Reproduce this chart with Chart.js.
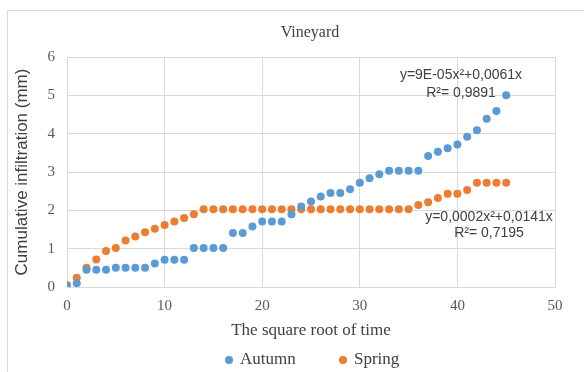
<!DOCTYPE html>
<html>
<head>
<meta charset="utf-8">
<script src="https://cdn.jsdelivr.net/npm/chart.js@4/dist/chart.umd.min.js"></script>
<style>
  html, body { margin: 0; padding: 0; background: #fff; }
  canvas { display: block; }
</style>
</head>
<body>
<canvas id="chart" width="584" height="372"></canvas>
<script>
// data
const rootTime = [0, 1, 2, 3, 4, 5, 6, 7, 8, 9, 10, 11, 12, 13, 14, 15, 16, 17, 18, 19, 20, 21, 22,
  23, 24, 25, 26, 27, 28, 29, 30, 31, 32, 33, 34, 35, 36, 37, 38, 39, 40, 41, 42, 43, 44, 45];
const autumn = [0.02, 0.10, 0.45, 0.45, 0.45, 0.50, 0.50, 0.50, 0.50, 0.61, 0.71, 0.71, 0.71,
  1.02, 1.02, 1.02, 1.02, 1.41, 1.41, 1.58, 1.71, 1.71, 1.71, 1.90, 2.10, 2.23, 2.36, 2.45,
  2.45, 2.55, 2.72, 2.84, 2.94, 3.03, 3.03, 3.03, 3.03, 3.42, 3.53, 3.62, 3.72, 3.92, 4.09,
  4.39, 4.59, 5.00];
const spring = [0.05, 0.24, 0.50, 0.72, 0.94, 1.02, 1.21, 1.32, 1.43, 1.52, 1.62, 1.71, 1.80,
  1.90, 2.03, 2.03, 2.03, 2.03, 2.03, 2.03, 2.03, 2.03, 2.03, 2.03, 2.03, 2.03, 2.03, 2.03,
  2.03, 2.03, 2.03, 2.03, 2.03, 2.03, 2.03, 2.03, 2.14, 2.21, 2.32, 2.43, 2.43, 2.53, 2.72,
  2.72, 2.72, 2.72];
const seriesNames = ['Autumn', 'Spring'];
const trendLabels = [
  ['y=9E-05x²+0,0061x', 'R²= 0,9891'],
  ['y=0,0002x²+0,0141x', 'R²= 0,7195']
];

const C = {
  blue: '#5b9bd5',
  orange: '#ed7d31',
  grid: '#d9d9d9',
  tick: '#595959',
  text: '#404040',
};
const SERIF = "'Liberation Serif', 'Times New Roman', serif";
const SANS = "'Liberation Sans', Arial, sans-serif";

// title, trendline equations, legend, frame
const extras = {
  id: 'extras',
  beforeDraw(chart) {
    const ctx = chart.ctx;
    ctx.save();
    ctx.fillStyle = '#fff';
    ctx.fillRect(0, 0, chart.width, chart.height);
    ctx.strokeStyle = C.grid;
    ctx.lineWidth = 1;
    ctx.strokeRect(7.5, 10.5, 700, 500);
    ctx.restore();
  },
  afterDraw(chart) {
    const ctx = chart.ctx;
    ctx.save();
    ctx.textAlign = 'center';
    ctx.textBaseline = 'middle';
    ctx.fillStyle = C.text;
    ctx.font = '16px ' + SERIF;
    ctx.fillText('Vineyard', 310, 33);

    ctx.font = '14px ' + SANS;
    ctx.fillText(trendLabels[0][0], 461, 75);
    ctx.fillText(trendLabels[0][1], 461, 93);
    ctx.fillText(trendLabels[1][0], 489, 217);
    ctx.fillText(trendLabels[1][1], 489, 233);

    // legend
    ctx.textAlign = 'left';
    ctx.font = '17px ' + SERIF;
    [[229, C.blue], [343, C.orange]].forEach(([x, col], i) => {
      ctx.fillStyle = col;
      ctx.beginPath();
      ctx.arc(x, 360, 4, 0, Math.PI * 2);
      ctx.fill();
      ctx.fillStyle = C.text;
      ctx.fillText(seriesNames[i], x + 11, 360);
    });
    ctx.restore();
  }
};

const pts = arr => arr.map((v, i) => ({ x: rootTime[i], y: v }));

new Chart(document.getElementById('chart'), {
  type: 'scatter',
  data: {
    datasets: [
      {
        label: seriesNames[0],
        data: pts(autumn),
        backgroundColor: C.blue,
        borderColor: C.blue,
        pointRadius: 4, borderWidth: 0,
      },
      {
        label: seriesNames[1],
        data: pts(spring),
        backgroundColor: C.orange,
        borderColor: C.orange,
        pointRadius: 4, borderWidth: 0,
      }
    ]
  },
  options: {
    responsive: false,
    animation: false,
    devicePixelRatio: 1,
    layout: { padding: { top: 57, right: 29, left: 0, bottom: 0 } },
    plugins: { legend: { display: false }, title: { display: false }, tooltip: { enabled: false } },
    scales: {
      x: {
        type: 'linear', min: 0, max: 50,
        grid: { color: C.grid, drawTicks: false },
        border: { color: C.grid },
        ticks: { stepSize: 10, padding: 10, color: C.tick, font: { family: SERIF, size: 15 } },
        title: { display: true, text: 'The square root of time', color: C.text,
          font: { family: SERIF, size: 17 }, padding: { top: 0, bottom: 31 } },
        afterFit: s => { s.height = 85; }
      },
      y: {
        min: 0, max: 6,
        grid: { color: C.grid, drawTicks: false },
        border: { color: C.grid },
        ticks: { stepSize: 1, padding: 12, color: C.tick, font: { family: SERIF, size: 15 } },
        title: { display: true, text: 'Cumulative infiltration (mm)', color: C.text,
          font: { family: SANS, size: 17 }, padding: { top: 12, bottom: 0 } },
        afterFit: s => { s.width = 67; }
      }
    }
  },
  plugins: [extras]
});
</script>
</body>
</html>
